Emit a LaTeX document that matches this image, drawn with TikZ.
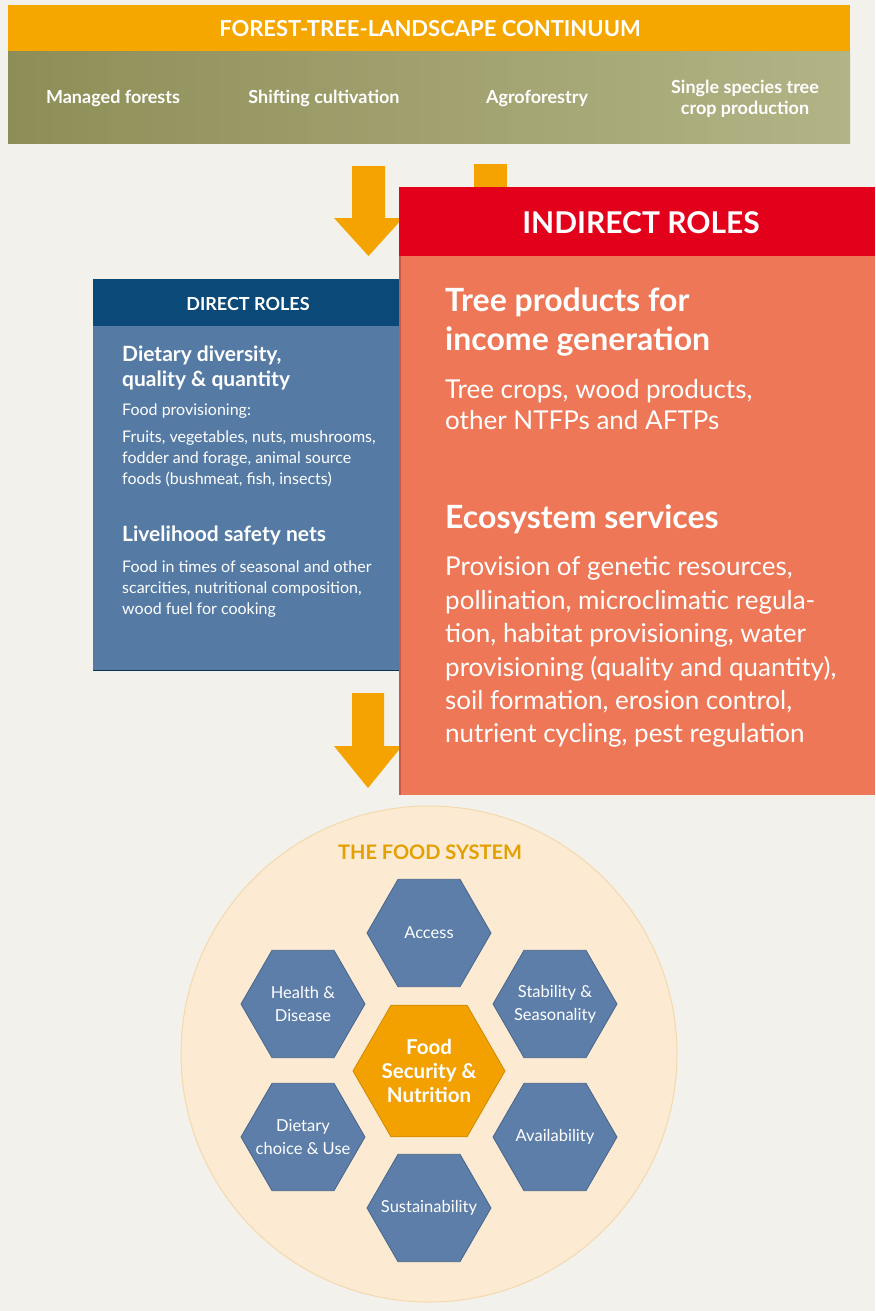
\documentclass[tikz,border=0pt]{standalone}
\usepackage{fontspec}
\setmainfont{Lato}
\usetikzlibrary{shapes.geometric}
\definecolor{bgc}{HTML}{F3F1EB}
\definecolor{orangebar}{HTML}{F5A700}
\definecolor{oliveL}{HTML}{8D8E57}
\definecolor{oliveR}{HTML}{B3B486}
\definecolor{arrowc}{HTML}{F4A300}
\definecolor{redc}{HTML}{E2001A}
\definecolor{salmon}{HTML}{ED7756}
\definecolor{salmonedge}{HTML}{C9584A}
\definecolor{navy}{HTML}{0B4A78}
\definecolor{steel}{HTML}{557BA5}
\definecolor{circfill}{HTML}{FCEBD2}
\definecolor{circedge}{HTML}{F3D9AE}
\definecolor{hexfill}{HTML}{5D7EA8}
\definecolor{hexedge}{HTML}{47658C}
\definecolor{foodtitle}{HTML}{E3A000}
\definecolor{centerhex}{HTML}{F2A100}
\tikzset{
  bandtxt/.style={text=white, font=\bfseries\fontsize{18}{21}\selectfont, inner sep=0pt, anchor=base},
  dhead/.style={text=white, font=\bfseries\fontsize{21}{25}\selectfont, inner sep=0pt, anchor=base west},
  dtxt/.style={text=white, font=\fontsize{16}{19}\selectfont, inner sep=0pt, anchor=base west},
  ihead/.style={text=white, font=\bfseries\fontsize{32}{38}\selectfont, inner sep=0pt, anchor=base west},
  itxt/.style={text=white, font=\fontsize{26}{30}\selectfont, inner sep=0pt, anchor=base west},
  bigarrow/.style={fill=arrowc, draw=none},
  hexa/.style={regular polygon, regular polygon sides=6, minimum size=124pt, inner sep=0pt,
     fill=hexfill, draw=hexedge, line width=0.8pt},
  hexlabel/.style={text=white, align=center, inner sep=0pt, font=\fontsize{16.5}{23}\selectfont},
  centerlabel/.style={text=white, align=center, inner sep=0pt, font=\bfseries\fontsize{20.5}{24}\selectfont},
}
\begin{document}
\begin{tikzpicture}[x=1pt,y=-1pt]
% background
\fill[bgc] (0,0) rectangle (875,1311);
\path[use as bounding box] (0,0) rectangle (875,1311);

% top band
\fill[orangebar] (8,5) rectangle (850,52);
\node[text=white, font=\bfseries\fontsize{22}{26}\selectfont, inner sep=0pt, anchor=base] (title) at (430,37) {FOREST-TREE-LANDSCAPE CONTINUUM};
\shade[left color=oliveL, right color=oliveR] (8,52) rectangle (850,143);
\node[bandtxt] (mf) at (113,104) {Managed forests};
\node[bandtxt] (sc) at (324,104) {Shifting cultivation};
\node[bandtxt] (af) at (537,104) {Agroforestry};
\node[bandtxt] (ss1) at (745,94) {Single species tree};
\node[bandtxt] (ss2) at (745,115) {crop production};

% arrows from band
\fill[bigarrow] (352,166) -- (385,166) -- (385,218) -- (403,218) -- (368.5,256) -- (334,218) -- (352,218) -- cycle;
\fill[bigarrow] (474,164) -- (507,164) -- (507,210) -- (474,210) -- cycle;

% direct roles box
\fill[steel] (93,279) rectangle (400,670);
\fill[navy] (93,279) rectangle (400,326);
\draw[navy!70!black, line width=1pt] (93,670) -- (400,670);
\node[text=white, font=\bfseries\fontsize{18}{21}\selectfont, inner sep=0pt, anchor=base] (dr) at (248,310) {DIRECT ROLES};
\node[dhead] (d1) at (122,361) {Dietary diversity,};
\node[dhead] (d2) at (122,386) {quality \& quantity};
\node[dtxt] (d3) at (122,415) {Food provisioning:};
\node[dtxt] (d4) at (122,442) {Fruits, vegetables, nuts, mushrooms,};
\node[dtxt] (d5) at (122,463) {fodder and forage, animal source};
\node[dtxt] (d6) at (122,484) {foods (bushmeat, fish, insects)};
\node[dhead] (d7) at (122,541) {Livelihood safety nets};
\node[dtxt] (d8) at (122,572) {Food in times of seasonal and other};
\node[dtxt] (d9) at (122,593) {scarcities, nutritional composition,};
\node[dtxt] (d10) at (122,614) {wood fuel for cooking};

% arrow to food system
\fill[bigarrow] (352,693) -- (384,693) -- (384,746) -- (402,746) -- (368,788) -- (334,746) -- (352,746) -- cycle;

% indirect roles box
\fill[salmon] (399,256) rectangle (875,795);
\fill[redc] (399,187) rectangle (875,256);
\draw[salmonedge, line width=2pt] (400,256) -- (400,795);
\node[text=white, font=\bfseries\fontsize{30}{34}\selectfont, inner sep=0pt, anchor=base] (ir) at (641,233) {INDIRECT ROLES};
\node[ihead] (i1) at (445,311) {Tree products for};
\node[ihead] (i2) at (445,350) {income generation};
\node[itxt] (i3) at (445,398) {Tree crops, wood products,};
\node[itxt] (i4) at (445,429) {other NTFPs and AFTPs};
\node[ihead] (i5) at (445,528) {Ecosystem services};
\node[itxt] (i6) at (445,575) {Provision of genetic resources,};
\node[itxt] (i7) at (445,609) {pollination, microclimatic regula-};
\node[itxt] (i8) at (445,642) {tion, habitat provisioning, water};
\node[itxt] (i9) at (445,676) {provisioning (quality and quantity),};
\node[itxt] (i10) at (445,709) {soil formation, erosion control,};
\node[itxt] (i11) at (445,742) {nutrient cycling, pest regulation};

% food system
\node[circle, minimum size=496pt, fill=circfill, draw=circedge, line width=1pt, inner sep=0pt] (sys) at (429,1054) {};
\node[text=foodtitle, font=\bfseries\fontsize{20}{24}\selectfont, inner sep=0pt, anchor=base] (fst) at (430,859) {THE FOOD SYSTEM};
\node[hexa, label={[hexlabel]center:Access}] (acc) at (429,933) {};
\node[hexa, label={[hexlabel]center:{Health \&\\Disease}}] (hd) at (303,1004) {};
\node[hexa, label={[hexlabel]center:{Stability \&\\Seasonality}}] (st) at (555,1004) {};
\node[hexa, label={[hexlabel]center:{Dietary\\choice \& Use}}] (dc) at (303,1137) {};
\node[hexa, label={[hexlabel]center:Availability}] (av) at (555,1137) {};
\node[hexa, label={[hexlabel]center:Sustainability}] (su) at (429,1208) {};
\node[hexa, minimum size=152pt, fill=centerhex, draw=centerhex!85!black,
      label={[centerlabel]center:{Food\\Security \&\\Nutrition}}] (fsn) at (429,1071) {};
\end{tikzpicture}
\end{document}
